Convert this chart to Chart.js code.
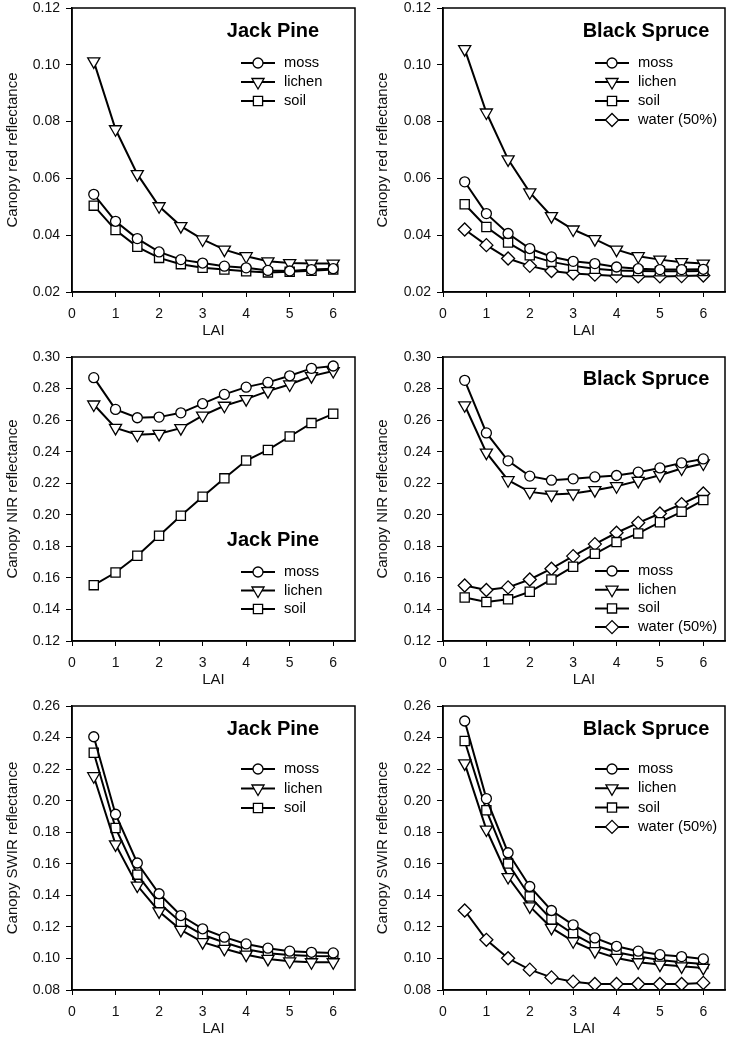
<!DOCTYPE html>
<html>
<head>
<meta charset="utf-8">
<script src="https://cdn.jsdelivr.net/npm/chart.js@4.4.1/dist/chart.umd.min.js"></script>
<style>
  html, body { margin: 0; padding: 0; background: #fff; }
  #wrap { position: relative; width: 730px; height: 1038px; overflow: hidden; }
  .painel { position: absolute; width: 365px; height: 340px; }
</style>
</head>
<body>
<div id="wrap">
  <div class="painel" style="left:0;top:0"><canvas id="red_jp" width="365" height="340"></canvas></div>
  <div class="painel" style="left:365px;top:0"><canvas id="red_bs" width="365" height="340"></canvas></div>
  <div class="painel" style="left:0;top:349px"><canvas id="nir_jp" width="365" height="340"></canvas></div>
  <div class="painel" style="left:365px;top:349px"><canvas id="nir_bs" width="365" height="340"></canvas></div>
  <div class="painel" style="left:0;top:698px"><canvas id="swir_jp" width="365" height="340"></canvas></div>
  <div class="painel" style="left:365px;top:698px"><canvas id="swir_bs" width="365" height="340"></canvas></div>
</div>
<script>
/* ===== DADOS ===== */
const lai = [0.5, 1, 1.5, 2, 2.5, 3, 3.5, 4, 4.5, 5, 5.5, 6];
const series_nomes = ['moss', 'lichen', 'soil', 'water (50%)'];

// red - Jack Pine
const red_jp_moss   = [0.0544, 0.0449, 0.0388, 0.0341, 0.0314, 0.0302, 0.0291, 0.0285, 0.0276, 0.0274, 0.0279, 0.0282];
const red_jp_lichen = [0.1012, 0.0773, 0.0615, 0.0502, 0.0432, 0.0385, 0.0349, 0.0326, 0.0308, 0.0302, 0.0300, 0.0300];
const red_jp_soil   = [0.0504, 0.0418, 0.0359, 0.0320, 0.0298, 0.0285, 0.0279, 0.0273, 0.0269, 0.0271, 0.0275, 0.0279];
// red - Black Spruce
const red_bs_moss   = [0.0588, 0.0476, 0.0406, 0.0353, 0.0324, 0.0308, 0.0300, 0.0288, 0.0282, 0.0279, 0.0279, 0.0280];
const red_bs_lichen = [0.1055, 0.0832, 0.0667, 0.0551, 0.0467, 0.0420, 0.0386, 0.0349, 0.0326, 0.0314, 0.0305, 0.0300];
const red_bs_soil   = [0.0509, 0.0429, 0.0374, 0.0329, 0.0306, 0.0292, 0.0282, 0.0276, 0.0274, 0.0273, 0.0273, 0.0274];
const red_bs_water  = [0.0420, 0.0365, 0.0318, 0.0292, 0.0274, 0.0265, 0.0261, 0.0256, 0.0255, 0.0255, 0.0256, 0.0258];
// NIR - Jack Pine
const nir_jp_moss   = [0.2869, 0.2668, 0.2615, 0.2619, 0.2646, 0.2704, 0.2763, 0.2809, 0.2839, 0.2881, 0.2928, 0.2943];
const nir_jp_lichen = [0.2699, 0.2551, 0.2507, 0.2513, 0.2549, 0.2629, 0.2691, 0.2733, 0.2784, 0.2826, 0.2879, 0.2911];
const nir_jp_soil   = [0.1554, 0.1634, 0.1740, 0.1867, 0.1994, 0.2115, 0.2231, 0.2344, 0.2411, 0.2496, 0.2581, 0.2640];
// NIR - Black Spruce
const nir_bs_moss   = [0.2852, 0.2519, 0.2342, 0.2245, 0.2219, 0.2228, 0.2240, 0.2249, 0.2270, 0.2297, 0.2329, 0.2354];
const nir_bs_lichen = [0.2694, 0.2394, 0.2219, 0.2145, 0.2128, 0.2135, 0.2156, 0.2181, 0.2215, 0.2251, 0.2293, 0.2325];
const nir_bs_soil   = [0.1476, 0.1447, 0.1464, 0.1512, 0.1590, 0.1671, 0.1753, 0.1827, 0.1882, 0.1953, 0.2019, 0.2093];
const nir_bs_water  = [0.1552, 0.1523, 0.1540, 0.1590, 0.1658, 0.1738, 0.1814, 0.1886, 0.1949, 0.2008, 0.2068, 0.2135];
// SWIR - Jack Pine
const swir_jp_moss   = [0.2405, 0.1914, 0.1605, 0.1410, 0.1272, 0.1188, 0.1135, 0.1092, 0.1065, 0.1046, 0.1039, 0.1035];
const swir_jp_lichen = [0.2155, 0.1723, 0.1462, 0.1298, 0.1181, 0.1103, 0.1061, 0.1024, 0.0997, 0.0982, 0.0976, 0.0976];
const swir_jp_soil   = [0.2304, 0.1827, 0.1531, 0.1351, 0.1230, 0.1150, 0.1101, 0.1058, 0.1033, 0.1022, 0.1016, 0.1014];
// SWIR - Black Spruce
const swir_bs_moss   = [0.2505, 0.2013, 0.1670, 0.1456, 0.1304, 0.1213, 0.1130, 0.1077, 0.1046, 0.1024, 0.1012, 0.0997];
const swir_bs_lichen = [0.2236, 0.1817, 0.1516, 0.1330, 0.1194, 0.1109, 0.1046, 0.1003, 0.0976, 0.0961, 0.0950, 0.0940];
const swir_bs_soil   = [0.2378, 0.1939, 0.1601, 0.1393, 0.1247, 0.1156, 0.1082, 0.1039, 0.1012, 0.0990, 0.0976, 0.0965];
const swir_bs_water  = [0.1304, 0.1118, 0.1001, 0.0929, 0.0880, 0.0853, 0.0838, 0.0838, 0.0838, 0.0838, 0.0838, 0.0845];

// eixos
const x_min = 0, x_max = 6.5, x_passo = 1;
const red_y = { min: 0.02, max: 0.12, passo: 0.02, titulo: 'Canopy red reflectance' };
const nir_y = { min: 0.12, max: 0.30, passo: 0.02, titulo: 'Canopy NIR reflectance' };
const swir_y = { min: 0.08, max: 0.26, passo: 0.02, titulo: 'Canopy SWIR reflectance' };

/* ===== ESTILOS ===== */
const FONTE = '"Liberation Sans", Arial, sans-serif';
const marcadores = [
  { pointStyle: 'circle',   pointRadius: 5,   pointRotation: 0 },
  { pointStyle: 'triangle', pointRadius: 7,   pointRotation: 180 },
  { pointStyle: 'rect',     pointRadius: 6.5, pointRotation: 0 },
  { pointStyle: 'rectRot',  pointRadius: 6.5, pointRotation: 0 }
];

function monta_dataset(valores, i) {
  return Object.assign({
    label: series_nomes[i],
    data: lai.map((x, k) => ({ x: x, y: valores[k] })),
    borderColor: '#000',
    borderWidth: 2,
    backgroundColor: '#fff',
    pointBackgroundColor: '#fff',
    pointBorderColor: '#000',
    pointBorderWidth: 1.3,
    tension: 0
  }, marcadores[i]);
}

// caixa, titulo e legenda dentro da area do grafico
const painel_plugin = {
  id: 'painel',
  afterDatasetsDraw(chart, args, opts) {
    const ctx = chart.ctx;
    const a = chart.chartArea;
    ctx.save();
    ctx.strokeStyle = '#000';
    ctx.lineWidth = 1.5;
    ctx.strokeRect(a.left, a.top, a.right - a.left, a.bottom - a.top);

    ctx.fillStyle = '#000';
    ctx.font = 'bold 20px ' + FONTE;
    ctx.textAlign = 'center';
    ctx.textBaseline = 'middle';
    ctx.fillText(opts.titulo, a.left + opts.tx, a.top + opts.ty);

    ctx.font = '14.7px ' + FONTE;
    ctx.textAlign = 'left';
    chart.data.datasets.forEach((ds, i) => {
      const x = a.left + opts.lx;
      const y = a.top + opts.ly + i * opts.dy;
      ctx.strokeStyle = '#000';
      ctx.lineWidth = 2;
      ctx.beginPath();
      ctx.moveTo(x - 17, y);
      ctx.lineTo(x + 17, y);
      ctx.stroke();
      ctx.fillStyle = '#fff';
      ctx.lineWidth = ds.pointBorderWidth;
      Chart.helpers.drawPoint(ctx, {
        pointStyle: ds.pointStyle,
        rotation: ds.pointRotation,
        radius: ds.pointRadius,
        borderWidth: ds.pointBorderWidth
      }, x, y);
      ctx.fillStyle = '#000';
      ctx.fillText(ds.label, x + opts.tdx, y);
    });
    ctx.restore();
  }
};

function cria_grafico(id, series, eixo_y, lado, legenda) {
  const esquerdo = lado === 'esq';
  return new Chart(document.getElementById(id), {
    type: 'line',
    data: { datasets: series.map(monta_dataset) },
    options: {
      responsive: false,
      animation: false,
      layout: { autoPadding: false, padding: { top: 8, right: esquerdo ? 10 : 5, left: 0, bottom: 0 } },
      plugins: {
        legend: { display: false },
        tooltip: { enabled: false },
        painel: legenda
      },
      scales: {
        x: {
          type: 'linear',
          min: x_min, max: x_max,
          afterFit: (s) => { s.height = 48; s.paddingLeft = 0; s.paddingRight = 0; },
          grid: { drawOnChartArea: false, drawTicks: true, tickLength: 5, color: '#000', lineWidth: 1 },
          border: { display: true, color: '#000', width: 1.5 },
          ticks: { stepSize: x_passo, includeBounds: false, padding: 9, color: '#111', font: { size: 14, family: FONTE } },
          title: { display: true, text: 'LAI', color: '#111', padding: { top: 0, bottom: 0 }, font: { size: 15, family: FONTE } }
        },
        y: {
          min: eixo_y.min, max: eixo_y.max,
          afterFit: (s) => { s.width = esquerdo ? 72 : 78; s.paddingTop = 0; s.paddingBottom = 0; },
          grid: { drawOnChartArea: false, drawTicks: true, tickLength: 6, color: '#000', lineWidth: 1 },
          border: { display: true, color: '#000', width: 1.5 },
          ticks: {
            stepSize: eixo_y.passo, padding: 6, color: '#111',
            font: { size: 14, family: FONTE },
            callback: (v) => v.toFixed(2)
          },
          title: { display: true, text: eixo_y.titulo, color: '#111', padding: { top: esquerdo ? 4 : 9, bottom: 0 }, font: { size: 15, family: FONTE } }
        }
      }
    },
    plugins: [painel_plugin]
  });
}

/* ===== GRAFICOS ===== */
cria_grafico('red_jp', [red_jp_moss, red_jp_lichen, red_jp_soil], red_y, 'esq',
  { titulo: 'Jack Pine', tx: 201, ty: 23, lx: 186, ly: 55, dy: 19, tdx: 26 });
cria_grafico('red_bs', [red_bs_moss, red_bs_lichen, red_bs_soil, red_bs_water], red_y, 'dir',
  { titulo: 'Black Spruce', tx: 203, ty: 23, lx: 169, ly: 55, dy: 19, tdx: 26 });
cria_grafico('nir_jp', [nir_jp_moss, nir_jp_lichen, nir_jp_soil], nir_y, 'esq',
  { titulo: 'Jack Pine', tx: 201, ty: 183, lx: 186, ly: 215, dy: 18.5, tdx: 26 });
cria_grafico('nir_bs', [nir_bs_moss, nir_bs_lichen, nir_bs_soil, nir_bs_water], nir_y, 'dir',
  { titulo: 'Black Spruce', tx: 203, ty: 22, lx: 169, ly: 214, dy: 18.7, tdx: 26 });
cria_grafico('swir_jp', [swir_jp_moss, swir_jp_lichen, swir_jp_soil], swir_y, 'esq',
  { titulo: 'Jack Pine', tx: 201, ty: 23, lx: 186, ly: 63, dy: 19.5, tdx: 26 });
cria_grafico('swir_bs', [swir_bs_moss, swir_bs_lichen, swir_bs_soil, swir_bs_water], swir_y, 'dir',
  { titulo: 'Black Spruce', tx: 203, ty: 23, lx: 169, ly: 63, dy: 19.3, tdx: 26 });
</script>
</body>
</html>
